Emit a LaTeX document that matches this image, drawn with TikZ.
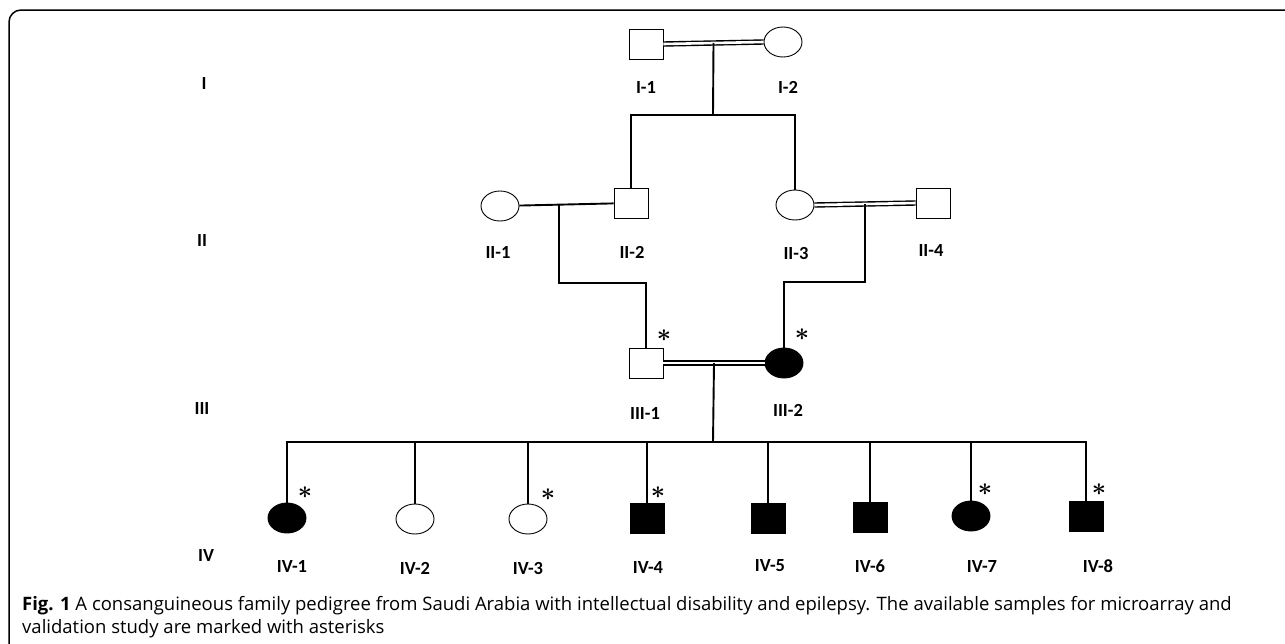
\documentclass[tikz,border=0pt]{standalone}
\usepackage{fontspec}
\setmainfont{Carlito}
\newfontfamily\capfont{Open Sans}
\usetikzlibrary{shapes.geometric,calc}
\tikzset{
  male/.style={draw, line width=0.9pt, minimum width=34pt, minimum height=30pt, inner sep=0pt},
  female/.style={draw, ellipse, line width=0.9pt, minimum width=38pt, minimum height=30pt, inner sep=0pt},
  aff/.style={fill=black},
  lbl/.style={font=\fontsize{18.5}{20}\selectfont\bfseries, inner sep=0pt},
  star/.style={font=\fontsize{26}{26}\selectfont\boldmath, inner sep=0pt},
  link/.style={line width=1.9pt},
  cons/.style={double, double distance=2.6pt, line width=1.4pt},
  captext/.style={anchor=base west, inner sep=0pt, font=\capfont\fontsize{18.5}{24}\selectfont},
}
\begin{document}
\begin{tikzpicture}[x=1pt, y=-1pt]
  \useasboundingbox (0,0) rectangle (1285,643);
  % Frame
  \draw[line width=1.5pt, rounded corners=12pt] (9,650) -- (9,10) -- (1290,10);

  % Generation labels
  \node[lbl] (gI) at (204,83) {I};
  \node[lbl] (gII) at (202,240) {II};
  \node[lbl] (gIII) at (202,408) {III};
  \node[lbl] (gIV) at (206,555) {IV};

  % Generation I
  \node[male] (i1) at (646,44) {};
  \node[female] (i2) at (783,42) {};
  \draw[cons] (i1.east) -- (i2.west);
  \node[lbl] (li1) at (646,87) {I-1};
  \node[lbl] (li2) at (788,87) {I-2};

  % Generation II
  \node[female] (ii1) at (500,206) {};
  \node[male] (ii2) at (631,203) {};
  \node[female] (ii3) at (795,205) {};
  \node[male] (ii4) at (933,203) {};
  \draw[link] (ii1) -- (ii2);
  \draw[cons] (ii3.east) -- (ii4.west);
  \node[lbl] (lii1) at (498,252) {II-1};
  \node[lbl] (lii2) at (632,252) {II-2};
  \node[lbl] (lii3) at (796,253) {II-3};
  \node[lbl] (lii4) at (931,250) {II-4};

  % I -> II
  \coordinate (m1) at ($(i1.east)!0.5!(i2.west)$);
  \coordinate (s1) at (713,115);
  \draw[link] (m1) -- (s1);
  \draw[link] (ii2.north) |- (s1) -| (ii3.north);

  % Generation III
  \node[male] (iii1) at (646,363) {};
  \node[female, aff] (iii2) at (784,363) {};
  \draw[cons] (iii1.east) -- (iii2.west);
  \node[lbl] (liii1) at (645,413) {III-1};
  \node[lbl] (liii2) at (788,410) {III-2};
  \node[star] (siii1) at (664,336) {$\ast$};
  \node[star] (siii2) at (802,335) {$\ast$};

  % II -> III
  \coordinate (m2) at ($(ii1.east)!0.42!(ii2.west)$);
  \coordinate (k2) at ($(m2)+(0,78)$);
  \draw[link] (m2) -- (k2) -| (iii1.north);
  \coordinate (m3) at ($(ii3.east)!0.5!(ii4.west)$);
  \coordinate (k3) at ($(m3)+(0,78)$);
  \draw[link] (m3) -- (k3) -| (iii2.north);

  % Generation IV
  \node[female, aff] (iv1) at (287,518) {};
  \node[female] (iv2) at (415,519) {};
  \node[female] (iv3) at (528,519) {};
  \node[male, aff] (iv4) at (647,518) {};
  \node[male, aff] (iv5) at (768,518) {};
  \node[male, aff] (iv6) at (870,517) {};
  \node[female, aff] (iv7) at (971,516) {};
  \node[male, aff] (iv8) at (1086,516) {};
  \node[lbl] (liv1) at (292,566) {IV-1};
  \node[lbl] (liv2) at (415,568) {IV-2};
  \node[lbl] (liv3) at (528,568) {IV-3};
  \node[lbl] (liv4) at (648,567) {IV-4};
  \node[lbl] (liv5) at (770,566) {IV-5};
  \node[lbl] (liv6) at (870,566) {IV-6};
  \node[lbl] (liv7) at (982,566) {IV-7};
  \node[lbl] (liv8) at (1098,566) {IV-8};
  \node[star] (siv1) at (305,493) {$\ast$};
  \node[star] (siv3) at (548,495) {$\ast$};
  \node[star] (siv4) at (658,493) {$\ast$};
  \node[star] (siv7) at (985,490) {$\ast$};
  \node[star] (siv8) at (1099,490) {$\ast$};

  % III -> IV
  \coordinate (m4) at ($(iii1.east)!0.5!(iii2.west)$);
  \coordinate (s4) at (713,442);
  \draw[link] (m4) -- (s4);
  \draw[link] (iv1.north) |- (s4) -| (iv8.north);
  \foreach \k in {2,...,7}
    \draw[link] (iv\k.north) -- (iv\k.north |- s4);

  % Caption
  \node[captext] (cap1) at (22,610)
    {{\bfseries Fig. 1} A consanguineous family pedigree from Saudi Arabia with intellectual disability and epilepsy. The available samples for microarray and};
  \node[captext] (cap2) at (22,633) {validation study are marked with asterisks};
\end{tikzpicture}
\end{document}
